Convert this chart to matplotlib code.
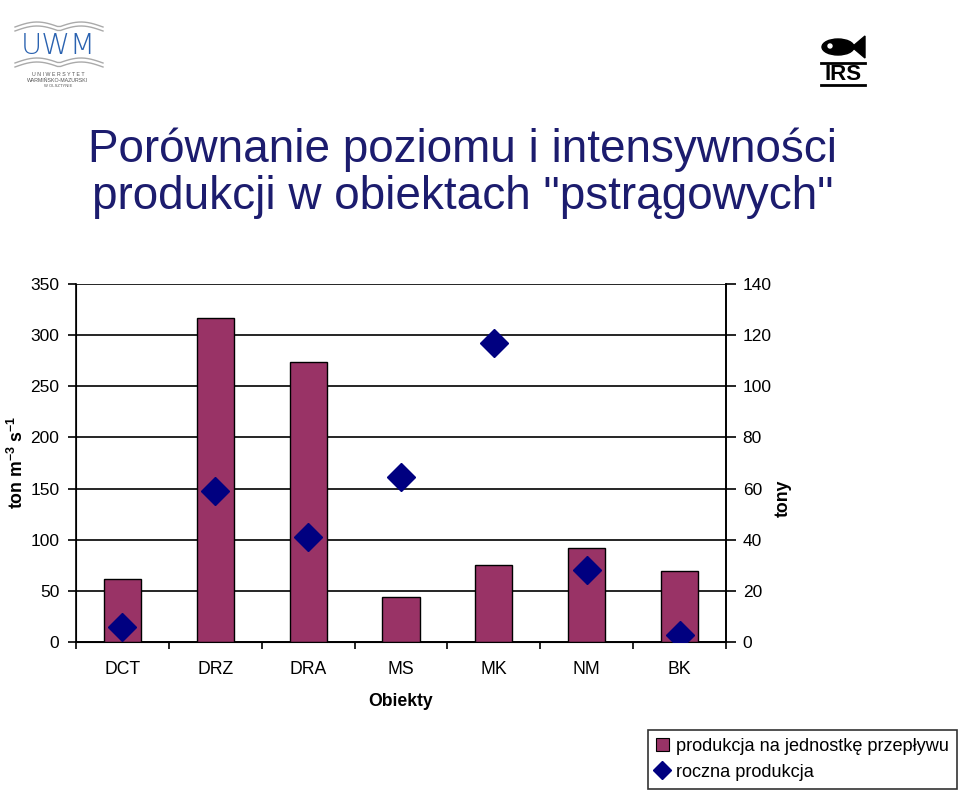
import matplotlib
matplotlib.use("Agg")
import matplotlib.pyplot as plt
from matplotlib.patches import Rectangle, Ellipse, Polygon
from matplotlib.lines import Line2D
import numpy as np

plt.rcParams['font.family'] = ['Liberation Sans', 'DejaVu Sans']
plt.rcParams['mathtext.fontset'] = 'custom'
plt.rcParams['mathtext.rm'] = 'Liberation Sans:bold'
plt.rcParams['mathtext.it'] = 'Liberation Sans:bold'
plt.rcParams['mathtext.bf'] = 'Liberation Sans:bold'

categories = ["DCT", "DRZ", "DRA", "MS", "MK", "NM", "BK"]
prod_per_flow = [62, 317, 274, 44, 75, 92, 69]      # left axis, ton m-3 s-1
annual_prod = [5.7, 59, 41, 64.5, 117, 28, 2.6]       # right axis, tony
left_ticks = [0, 50, 100, 150, 200, 250, 300, 350]
right_ticks = [0, 20, 40, 60, 80, 100, 120, 140]

W, H = 960, 791
fig = plt.figure(figsize=(W / 100, H / 100), dpi=100)

ax_l, ax_r, ax_t, ax_b = 76, 726, 284, 642
ax = fig.add_axes([ax_l / W, 1 - ax_b / H, (ax_r - ax_l) / W, (ax_b - ax_t) / H])
x = np.arange(len(categories))
ax.bar(x, prod_per_flow, width=0.4, color="#993366", edgecolor="black", linewidth=1, zorder=3)
ax.set_xlim(-0.5, len(categories) - 0.5)
ax.set_ylim(0, 350)
ax.set_yticks(left_ticks)
ax.yaxis.grid(True, color="black", linewidth=1.2, zorder=0)
ax.set_axisbelow(True)
ax.set_xticks(np.arange(-0.5, len(categories), 1.0))
ax.set_xticklabels([])
ax.set_xticks(x, minor=True)
ax.set_xticklabels(categories, minor=True)
ax.tick_params(axis="x", which="major", length=5, width=1.2, direction="out")
ax.tick_params(axis="x", which="minor", length=0, pad=14, labelsize=12.7)
ax.tick_params(axis="y", length=6, width=1.2, labelsize=12.5, pad=6)
for s in ["left", "bottom", "right"]:
    ax.spines[s].set_linewidth(1.2)
ax.spines["top"].set_visible(False)
ax.set_xlabel("Obiekty", fontsize=12.7, fontweight="bold")
ax.xaxis.set_label_coords((401 - ax_l) / (ax_r - ax_l), (ax_b - 693) / (ax_b - ax_t))
ax.set_ylabel(r"ton m$^{-3}$ s$^{-1}$", fontsize=12.7, fontweight="bold")
ax.yaxis.set_label_coords((27 - ax_l) / (ax_r - ax_l), (ax_b - 462) / (ax_b - ax_t))

ax2 = ax.twinx()
ax2.plot(x, annual_prod, linestyle="none", marker="D", markersize=14,
         color="#000080", zorder=4)
ax2.set_ylim(0, 140)
ax2.set_yticks(right_ticks)
ax2.tick_params(axis="y", length=7, width=1.2, labelsize=12.5, pad=5)
ax2.spines["right"].set_linewidth(1.2)
ax2.spines["top"].set_visible(False)
ax2.set_ylabel("tony", fontsize=12.7, fontweight="bold")
ax2.yaxis.set_label_coords((775 - ax_l) / (ax_r - ax_l), (ax_b - 498) / (ax_b - ax_t))

# Title
fig.text(463 / W, 1 - 150 / H, 'Porównanie poziomu i intensywności', ha="center", va="center",
         fontsize=33, color="#1c1c6e")
fig.text(463 / W, 1 - 197 / H, 'produkcji w obiektach "pstrągowych"', ha="center", va="center",
         fontsize=33, color="#1c1c6e")

# Legend
handles = [Rectangle((0, 0), 1, 1, facecolor="#993366", edgecolor="black", linewidth=0.8),
           Line2D([], [], linestyle="none", marker="D", markersize=9, color="#000080")]
leg = fig.legend(handles, ["produkcja na jednostkę przepływu", "roczna produkcja"],
                 loc="lower right", bbox_to_anchor=(957 / W, 1 - 789 / H), fontsize=13.1,
                 frameon=True, fancybox=False, edgecolor="black", handlelength=0.7,
                 handletextpad=0.4, borderpad=0.45, labelspacing=0.5, borderaxespad=0)
leg.get_frame().set_linewidth(1.2)

# UWM logo (approximation)
def fx(px):
    return px / W
def fy(py):
    return 1 - py / H
t = np.linspace(0, 1, 30)
for off in [0, 4]:
    xs = 15 + 88 * t
    ys = 27 + off - 5 * np.sin(np.pi * (2 * t % 1))
    fig.add_artist(Line2D(fx(xs), fy(ys), color="#aaaaaa", linewidth=1))
    ys2 = 63 + off - 5 * np.sin(np.pi * (2 * t % 1))
    fig.add_artist(Line2D(fx(xs), fy(ys2), color="#aaaaaa", linewidth=1))
fig.text(fx(58), fy(46), "UWM", ha="center", va="center", fontsize=21, color="#2a62b0",
         family="DejaVu Sans", fontweight="light")
fig.text(fx(58), fy(74), "U N I W E R S Y T E T", ha="center", va="center", fontsize=3.8, color="#555555")
fig.text(fx(58), fy(80), "WARMIŃSKO-MAZURSKI", ha="center", va="center", fontsize=3.8, color="#555555")
fig.text(fx(58), fy(86), "W OLSZTYNIE", ha="center", va="center", fontsize=3, color="#555555")

# IRS logo (approximation)
fig.add_artist(Ellipse((fx(838), fy(47)), 32 / W, 16 / H, color="black"))
fig.add_artist(Ellipse((fx(830), fy(46)), 4 / W, 4 / H, color="white"))
fig.add_artist(Polygon([(fx(852), fy(47)), (fx(865), fy(36)), (fx(865), fy(58))],
                       closed=True, color="black"))
fig.add_artist(Line2D([fx(821), fx(865)], [fy(63), fy(63)], color="black", linewidth=2))
fig.add_artist(Line2D([fx(821), fx(865)], [fy(85), fy(85)], color="black", linewidth=2))
fig.text(fx(843), fy(74), "IRS", ha="center", va="center", fontsize=16, color="black",
         fontweight="bold")

fig.savefig("out.png", dpi=100)
